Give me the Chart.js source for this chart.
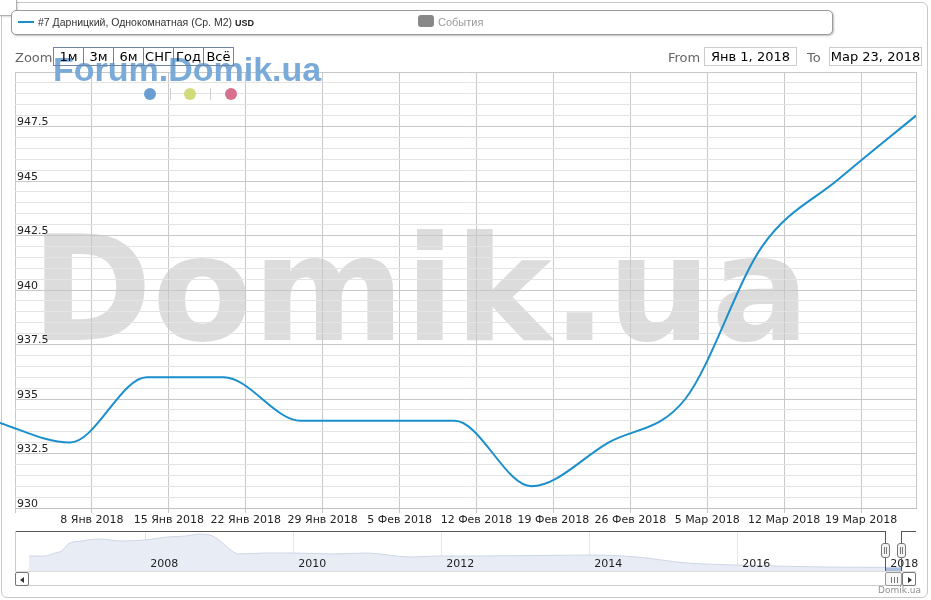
<!DOCTYPE html>
<html>
<head>
<meta charset="utf-8">
<title>Дарницкий, Однокомнатная</title>
<script src="https://cdn.jsdelivr.net/npm/chart.js@4.4.1/dist/chart.umd.min.js"></script>
<style>
  * { box-sizing: border-box; }
  body { margin: 0; background: #fff; font-family: "DejaVu Sans", sans-serif; }
  #wrap { position: relative; width: 931px; height: 600px; overflow: hidden; }
  .abs { position: absolute; }
  #frame { left: 1px; top: 2px; width: 927px; height: 596px; border: 1px solid #c8c8c8; border-radius: 6px; }
  #tab { left: 0; top: 0; width: 17px; height: 16px; border: 1px solid #b0b0b0; border-top: none; border-left: none; border-radius: 0 0 4px 0; background: #fff; box-shadow: 1px 1px 2px rgba(0,0,0,.15); }
  #legend { left: 11px; top: 10px; width: 822px; height: 25px; border: 1px solid #9a9a9a; border-radius: 5px; box-shadow: 1px 1px 2px rgba(0,0,0,.25); background: #fff; }
  #legMark { left: 18px; top: 21px; width: 16px; height: 2px; background: #1a8fcc; }
  #legText { left: 38px; top: 16px; font: 10.5px "Liberation Sans", Arial, sans-serif; line-height: 13px; color: #333; white-space: nowrap; }
  #legText b { font-size: 9px; color: #222; }
  #evBox { left: 418px; top: 15px; width: 16px; height: 12px; background: #888; border-radius: 3px; }
  #evText { left: 438px; top: 16px; font: 11px "Liberation Sans", Arial, sans-serif; line-height: 13px; color: #999; }
  #wm { left: 31px; top: 216px; font: bold 146px "DejaVu Sans", sans-serif; line-height: 146px; color: #dcdcdc; white-space: nowrap; }
  #mainChart { left: 0; top: 0; }
  #navChart { left: 0; top: 531px; }
  #forum { left: 53px; top: 52px; font: bold 34px "Liberation Sans", Arial, sans-serif; line-height: 34px; color: #7aaad8; white-space: nowrap; }
  .dot { top: 88px; width: 12px; height: 12px; border-radius: 6px; }
  .sep { top: 88px; width: 1px; height: 12px; background: #cfcfcf; }
  #zoomLbl { left: 15px; top: 50px; font-size: 13px; line-height: 15px; color: #666; }
  #btns { left: 53px; top: 47px; height: 19px; display: flex; border: 1px solid #6f84a5; }
  #btns div { width: 30px; height: 17px; font-size: 13px; line-height: 17px; text-align: center; color: #000; border-left: 1px solid #6f84a5; }
  #btns div:first-child { border-left: none; width: 29px; }
  .lbl { top: 50px; font-size: 13px; line-height: 15px; color: #666; }
  .inp { top: 47px; width: 93px; height: 19px; border: 1px solid #ccc; font-size: 13px; line-height: 17px; text-align: center; color: #000; }
  .navLine { background: #555; }
  .handle { top: 543px; width: 9px; height: 15px; border: 1px solid #777; border-radius: 3px; background: #f4f4f4; }
  .handle i { position: absolute; left: 2px; top: 3px; width: 3px; height: 7px; border-left: 1px solid #777; border-right: 1px solid #777; }
  #track { left: 15px; top: 571px; width: 901px; height: 15px; border-top: 1px solid #ddd; border-bottom: 1px solid #ccc; }
  .sbtn { top: 572px; width: 14px; height: 14px; border: 1px solid #777; border-radius: 2px; background: #fff; }
  .tri { position: absolute; top: 4px; width: 0; height: 0; border-top: 3px solid transparent; border-bottom: 3px solid transparent; }
  #thumb { left: 885px; top: 572px; width: 17px; height: 14px; border: 1px solid #999; border-radius: 2px; background: #f6f6f6; }
  #thumb i { position: absolute; top: 4px; width: 1px; height: 6px; background: #777; }
  #credit { left: 878px; top: 585px; font-size: 9px; line-height: 11px; color: #909090; }
</style>
</head>
<body>
<div id="wrap">
  <div class="abs" id="frame"></div>
  <div class="abs" id="wm">Domik.ua</div>
  <canvas class="abs" id="mainChart" width="931" height="600"></canvas>
  <canvas class="abs" id="navChart" width="931" height="40"></canvas>

  <div class="abs" id="forum">Forum.Domik.ua</div>
  <div class="abs dot" style="left:144px;background:#6b9fd3"></div>
  <div class="abs sep" style="left:170px"></div>
  <div class="abs dot" style="left:184px;background:#d2db7a"></div>
  <div class="abs sep" style="left:210px"></div>
  <div class="abs dot" style="left:225px;background:#d7708f"></div>

  <div class="abs" id="tab"></div>
  <div class="abs" id="legend"></div>
  <div class="abs" id="legMark"></div>
  <div class="abs" id="legText">#7 Дарницкий, Однокомнатная (Ср. М2) <b>USD</b></div>
  <div class="abs" id="evBox"></div>
  <div class="abs" id="evText">События</div>

  <div class="abs" id="zoomLbl">Zoom</div>
  <div class="abs" id="btns"><div>1м</div><div>3м</div><div>6м</div><div>СНГ</div><div>Год</div><div>Всё</div></div>
  <div class="abs lbl" style="left:668px">From</div>
  <div class="abs inp" style="left:704px">Янв 1, 2018</div>
  <div class="abs lbl" style="left:807px">To</div>
  <div class="abs inp" style="left:829px">Мар 23, 2018</div>

  <div class="abs navLine" style="left:15px;top:531px;width:871px;height:1px"></div>
  <div class="abs navLine" style="left:901px;top:531px;width:15px;height:1px"></div>
  <div class="abs navLine" style="left:885px;top:531px;width:1px;height:41px"></div>
  <div class="abs navLine" style="left:901px;top:531px;width:1px;height:41px"></div>
  <div class="abs" style="left:15px;top:531px;width:1px;height:41px;background:#ccc"></div>
  <div class="abs handle" style="left:881px"><i></i></div>
  <div class="abs handle" style="left:897px"><i></i></div>

  <div class="abs" id="track"></div>
  <div class="abs sbtn" style="left:15px"><span class="tri" style="left:4px;border-right:4px solid #333"></span></div>
  <div class="abs" id="thumb"><i style="left:5px"></i><i style="left:8px"></i><i style="left:11px"></i></div>
  <div class="abs sbtn" style="left:902px"><span class="tri" style="left:5px;border-left:4px solid #333"></span></div>
  <div class="abs" id="credit">Domik.ua</div>
</div>

<script>
// Weekly average price, USD per m2
const pointDates = ['2017-12-30', '2018-01-06', '2018-01-13', '2018-01-20', '2018-01-27', '2018-02-03', '2018-02-10',
                    '2018-02-17', '2018-02-24', '2018-03-03', '2018-03-10', '2018-03-17', '2018-03-24'];
const priceUsd = [934.0, 933.0, 936.0, 936.0, 934.0, 934.0, 934.0, 931.0, 933.0, 935.0, 942.0, 945.1, 948.0];

// x axis ticks (Mondays)
const xTickDates = ['2018-01-01', '2018-01-08', '2018-01-15', '2018-01-22', '2018-01-29', '2018-02-05',
                    '2018-02-12', '2018-02-19', '2018-02-26', '2018-03-05', '2018-03-12', '2018-03-19'];
const xTickLabels = ['', '8 Янв 2018', '15 Янв 2018', '22 Янв 2018', '29 Янв 2018', '5 Фев 2018',
                     '12 Фев 2018', '19 Фев 2018', '26 Фев 2018', '5 Мар 2018', '12 Мар 2018', '19 Мар 2018'];
const viewFrom = '2018-01-01';
const viewTo = '2018-03-24';

// navigator: whole history
const navYears = [2006.43, 2006.64, 2006.78, 2006.87, 2006.96, 2007.14, 2007.39, 2007.66, 2008.0, 2008.29,
                  2008.54, 2008.74, 2008.91, 2009.03, 2009.14, 2009.26, 2009.64, 2010.0, 2010.54, 2010.99,
                  2011.58, 2011.98, 2012.52, 2014.01, 2014.64, 2015.32, 2015.99, 2017.21, 2018.0, 2018.23];
const navPrices = [1355, 1355, 1466, 1540, 1800, 1910, 1984, 1910, 1947, 2058,
                   2095, 2169, 2095, 1873, 1614, 1429, 1466, 1466, 1429, 1466,
                   1318, 1355, 1355, 1392, 1318, 1096, 1022, 948, 935, 948];
const navTickYears = [2008, 2010, 2012, 2014, 2016, 2018];
const navTickLabels = ['2008', '2010', '2012', '2014', '2016', '2018'];

const dayOf = d => (Date.parse(d) - Date.parse(viewFrom)) / 86400000;
const lineColor = '#1a8fcc';
const labelFont = { family: 'DejaVu Sans', size: 11 };

new Chart(document.getElementById('mainChart'), {
    type: 'line',
    data: {
        datasets: [{
            data: pointDates.map((d, i) => ({ x: dayOf(d), y: priceUsd[i] })),
            borderColor: lineColor,
            borderWidth: 2,
            pointRadius: 0,
            fill: false,
            cubicInterpolationMode: 'monotone',
            clip: { left: 15, top: 0, right: 0, bottom: 0 }
        }]
    },
    options: {
        responsive: false,
        animation: false,
        events: [],
        layout: { padding: { left: 15, right: 15, top: 72, bottom: 69 } },
        plugins: { legend: { display: false }, tooltip: { enabled: false } },
        scales: {
            x: {
                type: 'linear',
                min: 0,
                max: dayOf(viewTo),
                afterBuildTicks: s => {
                    s.ticks = xTickDates.map(d => ({ value: dayOf(d) })).concat([{ value: dayOf(viewTo) }]);
                },
                afterFit: s => { s.height = 23; },
                grid: {
                    color: '#c8c8c8',
                    tickLength: 5,
                    tickColor: c => c.index >= xTickDates.length ? 'rgba(0,0,0,0)' : '#c8c8c8'
                },
                border: { color: '#c0c0c0' },
                ticks: {
                    autoSkip: false,
                    maxRotation: 0,
                    padding: 1,
                    color: '#222',
                    font: labelFont,
                    callback: (v, i) => xTickLabels[i] || ''
                }
            },
            y: {
                min: 930,
                max: 950,
                afterFit: s => { s.width = 0; },
                grid: {
                    color: c => c.tick.value % 2.5 === 0 ? '#c8c8c8' : '#e4e4e4',
                    drawTicks: false
                },
                border: { display: false },
                ticks: {
                    stepSize: 0.5,
                    autoSkip: false,
                    mirror: true,
                    padding: 2,
                    labelOffset: -4,
                    color: '#222',
                    font: labelFont,
                    callback: v => (v % 2.5 === 0 && v < 950) ? String(v) : ''
                }
            }
        }
    }
});

// year labels sit inside the navigator, just right of each grid line
const navYearLabels = {
    id: 'navYearLabels',
    afterDatasetsDraw(chart) {
        const ctx = chart.ctx;
        const xs = chart.scales.x;
        ctx.save();
        ctx.font = '11px "DejaVu Sans"';
        ctx.fillStyle = '#222';
        ctx.textBaseline = 'alphabetic';
        navTickYears.forEach((yr, i) => {
            ctx.fillText(navTickLabels[i], xs.getPixelForValue(yr) + 5, 36);
        });
        ctx.restore();
    }
};

new Chart(document.getElementById('navChart'), {
    type: 'line',
    data: {
        datasets: [{
            data: navYears.map((y, i) => ({ x: y, y: navPrices[i] })),
            borderColor: '#cdd6e8',
            borderWidth: 1,
            backgroundColor: '#e8ecf5',
            fill: 'start',
            pointRadius: 0,
            cubicInterpolationMode: 'monotone',
            segment: {
                backgroundColor: c => c.p0.parsed.x >= 2018 ? '#a9bedc' : undefined
            }
        }]
    },
    plugins: [navYearLabels],
    options: {
        responsive: false,
        animation: false,
        events: [],
        layout: { padding: { left: 15, right: 15, top: 0, bottom: 0 } },
        plugins: { legend: { display: false }, tooltip: { enabled: false } },
        scales: {
            x: {
                type: 'linear',
                min: 2006.24,
                max: 2018.415,
                afterBuildTicks: s => { s.ticks = navTickYears.map(v => ({ value: v })); },
                afterFit: s => { s.height = 0; },
                grid: { color: '#e6e6e6', drawTicks: false },
                border: { display: false },
                ticks: { display: false }
            },
            y: { display: false, min: 800, max: 2280 }
        }
    }
});
</script>
</body>
</html>
